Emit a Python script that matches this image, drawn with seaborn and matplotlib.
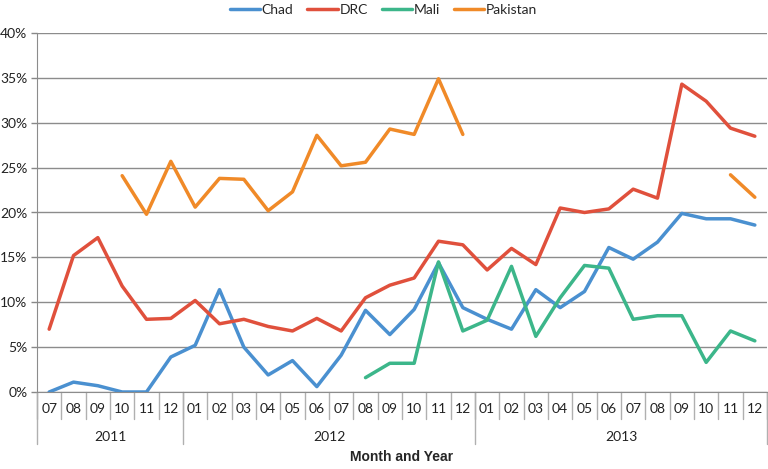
import numpy as np
import pandas as pd
import matplotlib
matplotlib.use("Agg")
import matplotlib.pyplot as plt
import matplotlib.transforms as mtransforms
import seaborn as sns

sns.set_style("white")
plt.rcParams['font.family'] = ['Lato', 'DejaVu Sans']

# Данные (доли в %), месяцы 2011-07 .. 2013-12
months = ['07', '08', '09', '10', '11', '12',
          '01', '02', '03', '04', '05', '06', '07', '08', '09', '10', '11', '12',
          '01', '02', '03', '04', '05', '06', '07', '08', '09', '10', '11', '12']
years = ['2011', '2012', '2013']
year_sizes = [6, 12, 12]

chad = [0.0, 1.1, 0.7, 0.0, 0.0, 3.9,
        5.2, 11.4, 5.0, 1.9, 3.5, 0.6, 4.1, 9.1, 6.4, 9.2, 14.4, 9.4,
        8.1, 7.0, 11.4, 9.4, 11.2, 16.1, 14.8, 16.7, 19.9, 19.3, 19.3, 18.6]
drc = [7.0, 15.2, 17.2, 11.8, 8.1, 8.2,
       10.2, 7.6, 8.1, 7.3, 6.8, 8.2, 6.8, 10.5, 11.9, 12.7, 16.8, 16.4,
       13.6, 16.0, 14.2, 20.5, 20.0, 20.4, 22.6, 21.6, 34.3, 32.4, 29.4, 28.5]
mali = [None] * 13 + [1.6, 3.2, 3.2, 14.5, 6.8,
                      8.0, 14.0, 6.2, 10.5, 14.1, 13.8, 8.1, 8.5, 8.5, 3.3, 6.8, 5.7]
pakistan = [None, None, None, 24.1, 19.8, 25.7,
            20.6, 23.8, 23.7, 20.2, 22.3, 28.6, 25.2, 25.6, 29.3, 28.7, 34.9, 28.7,
            None, None, None, None, None, None, None, None, None, None, 24.2, 21.7]

series = {'Chad': chad, 'DRC': drc, 'Mali': mali, 'Pakistan': pakistan}
colors = {'Chad': '#4a90d0', 'DRC': '#e0503c', 'Mali': '#3cb68a', 'Pakistan': '#f08a28'}

# длинный формат; сегменты разрываются на пропусках
rows = []
for name, vals in series.items():
    seg = 0
    prev_missing = True
    for i, v in enumerate(vals):
        if v is None:
            prev_missing = True
            continue
        if prev_missing:
            seg += 1
            prev_missing = False
        rows.append({'x': i, 'value': v / 100, 'country': name, 'seg': f'{name}{seg}'})
df = pd.DataFrame(rows)

fig = plt.figure(figsize=(7.68, 4.69), dpi=100)
ax = fig.add_axes([37 / 768, 77 / 469, 730 / 768, 359 / 469])

sns.lineplot(data=df, x='x', y='value', hue='country', units='seg', estimator=None,
             palette=colors, linewidth=2.5, ax=ax, legend=True)

ax.set_xlim(-0.5, len(months) - 0.5)
ax.set_ylim(0, 0.40)
ax.set_yticks(np.arange(0, 0.401, 0.05))
ax.set_yticklabels([f'{int(round(t * 100))}%' for t in np.arange(0, 0.401, 0.05)])
ax.set_xticks(range(len(months)))
ax.set_xticklabels(months)
ax.tick_params(axis='x', length=0, pad=8, labelsize=10, colors='#222222')
ax.tick_params(axis='y', length=4, width=1, color='#888888', pad=3, labelsize=10,
               labelcolor='#222222', left=True)
ax.grid(axis='y', color='#8c8c8c', linewidth=1)
ax.grid(axis='x', visible=False)
for s in ['top', 'right']:
    ax.spines[s].set_visible(False)
ax.spines['left'].set_color('#8c8c8c')
ax.spines['bottom'].set_color('#8c8c8c')

# разделители под осью X
trans = mtransforms.blended_transform_factory(ax.transData, ax.transAxes)
short = 27 / 359
long_ = 52 / 359
for i in range(len(months) + 1):
    ax.plot([i - 0.5, i - 0.5], [0, -short], transform=trans, color='#b0b0b0',
            lw=1, clip_on=False)
start = 0
for y, n in zip(years, year_sizes):
    ax.plot([start - 0.5, start - 0.5], [0, -long_], transform=trans, color='#b0b0b0',
            lw=1, clip_on=False)
    ax.text(start + n / 2 - 0.5, -45 / 359, y, transform=trans, ha='center', va='center',
            fontsize=10, color='#222222')
    start += n
ax.plot([start - 0.5, start - 0.5], [0, -long_], transform=trans, color='#b0b0b0',
        lw=1, clip_on=False)

ax.set_xlabel('Month and Year', fontweight='bold', fontsize=10, labelpad=25,
              family=['Liberation Sans', 'DejaVu Sans'])
ax.set_ylabel('')

handles, labels = ax.get_legend_handles_labels()
ax.legend(handles, labels, loc='upper center', bbox_to_anchor=(0.5 - 37 / 730 / 2, 1 + 35 / 359),
          ncol=4, frameon=False, fontsize=10, handlelength=2.2, columnspacing=1.0,
          handletextpad=0.1, borderaxespad=0)

fig.savefig('out.png', dpi=100)
